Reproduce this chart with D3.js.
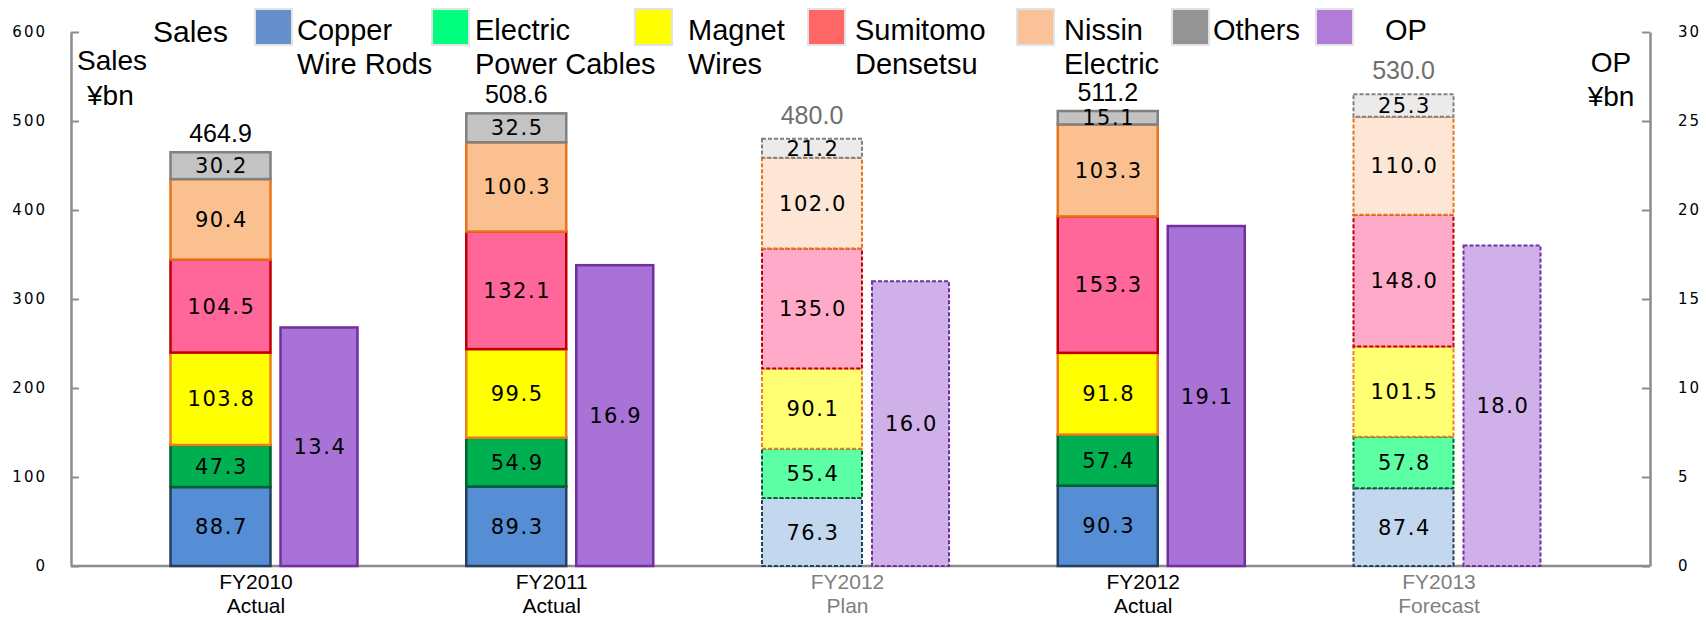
<!DOCTYPE html>
<html>
<head>
<meta charset="utf-8">
<script src="https://cdn.jsdelivr.net/npm/d3@7"></script>
<style>
  body { margin: 0; background: #fff; }
  svg { display: block; }
</style>
</head>
<body>
<svg id="chart" width="1706" height="620"></svg>
<script>
// values (¥bn)
const categories = ["FY2010 Actual", "FY2011 Actual", "FY2012 Plan", "FY2012 Actual", "FY2013 Forecast"];
const yearLabels = ["FY2010", "FY2011", "FY2012", "FY2012", "FY2013"];
const phaseLabels = ["Actual", "Actual", "Plan", "Actual", "Forecast"];

const copperWireRods = [88.7, 89.3, 76.3, 90.3, 87.4];
const electricPowerCables = [47.3, 54.9, 55.4, 57.4, 57.8];
const magnetWires = [103.8, 99.5, 90.1, 91.8, 101.5];
const sumitomoDensetsu = [104.5, 132.1, 135.0, 153.3, 148.0];
const nissinElectric = [90.4, 100.3, 102.0, 103.3, 110.0];
const others = [30.2, 32.5, 21.2, 15.1, 25.3];
const salesTotals = [464.9, 508.6, 480.0, 511.2, 530.0];
const operatingProfit = [13.4, 16.9, 16.0, 19.1, 18.0];

const salesTicks = [0, 100, 200, 300, 400, 500, 600];
const opTicks = [0, 5, 10, 15, 20, 25, 30];

const width = 1706;
const height = 620;
const plot = { left: 71, right: 1650, top: 32, bottom: 566 };

const keys = ["copper", "electric", "magnet", "sumitomo", "nissin", "others"];
const style = {
  copper:   { fill: "#558ED5", light: "#C3D8EF", stroke: "#243F60", legend: "#6690CC" },
  electric: { fill: "#00B050", light: "#5CFFA3", stroke: "#00602E", legend: "#00FF7F" },
  magnet:   { fill: "#FFFF00", light: "#FFFF73", stroke: "#F07D1E", legend: "#FFFF00" },
  sumitomo: { fill: "#FF6699", light: "#FFAAC8", stroke: "#C00000", legend: "#FF6666" },
  nissin:   { fill: "#FAC090", light: "#FDE6D6", stroke: "#E8741A", legend: "#F9C299" },
  others:   { fill: "#C3C3C3", light: "#EBEBEB", stroke: "#808080", legend: "#949494" },
  op:       { fill: "#A972D6", light: "#D0B0E8", stroke: "#7030A0", legend: "#B07CD8" }
};

const rows = categories.map((c, i) => ({
  key: c,
  copper: copperWireRods[i],
  electric: electricPowerCables[i],
  magnet: magnetWires[i],
  sumitomo: sumitomoDensetsu[i],
  nissin: nissinElectric[i],
  others: others[i],
  total: salesTotals[i],
  op: operatingProfit[i],
  estimate: phaseLabels[i] !== "Actual"
}));

const svg = d3.select("#chart");
const arial = "'Liberation Sans', Arial, sans-serif";
const verdana = "'DejaVu Sans', Verdana, sans-serif";

const x = d3.scalePoint(categories, [plot.left + 193, plot.right - 203]);
const ySales = d3.scaleLinear([0, 600], [plot.bottom, plot.top]);
const yOp = d3.scaleLinear([0, 30], [plot.bottom, plot.top]);

const stackW = 100, opW = 77, gap = 10;
const stackX = (c) => x(c) - (stackW + gap + opW) / 2;
const opX = (c) => stackX(c) + stackW + gap;

// axes
const axisL = d3.axisLeft(ySales).tickValues(salesTicks).tickSizeInner(-8).tickSizeOuter(0).tickPadding(24);
const axisR = d3.axisRight(yOp).tickValues(opTicks).tickSizeInner(-8).tickSizeOuter(0).tickPadding(28);

const gL = svg.append("g").attr("transform", `translate(${plot.left},0)`).call(axisL);
const gR = svg.append("g").attr("transform", `translate(${plot.right},0)`).call(axisR);
[gL, gR].forEach((g) => {
  g.select(".domain").attr("stroke", "#8c8c8c").attr("stroke-width", 2.5);
  g.selectAll(".tick line").attr("stroke", "#8c8c8c").attr("stroke-width", 2);
  g.selectAll(".tick text")
    .attr("font-family", verdana).attr("font-size", 15)
    .attr("letter-spacing", 2).attr("fill", "#000");
});

svg.append("line")
  .attr("x1", plot.left).attr("x2", plot.right)
  .attr("y1", plot.bottom).attr("y2", plot.bottom)
  .attr("stroke", "#8c8c8c").attr("stroke-width", 2.5);

// stacked sales bars
const series = d3.stack().keys(keys)(rows);
const barLayer = svg.append("g");
series.forEach((s) => {
  const st = style[s.key];
  barLayer.append("g")
    .selectAll("rect")
    .data(s)
    .join("rect")
    .attr("x", (d) => stackX(d.data.key))
    .attr("y", (d) => ySales(d[1]))
    .attr("width", stackW)
    .attr("height", (d) => ySales(d[0]) - ySales(d[1]))
    .attr("fill", (d) => (d.data.estimate ? st.light : st.fill))
    .attr("stroke", st.stroke)
    .attr("stroke-width", (d) => (d.data.estimate ? 2 : 2.5))
    .attr("stroke-dasharray", (d) => (d.data.estimate ? "4,2" : null));
});

// OP bars
svg.append("g")
  .selectAll("rect")
  .data(rows)
  .join("rect")
  .attr("x", (d) => opX(d.key))
  .attr("y", (d) => yOp(d.op))
  .attr("width", opW)
  .attr("height", (d) => yOp(0) - yOp(d.op))
  .attr("fill", (d) => (d.estimate ? style.op.light : style.op.fill))
  .attr("stroke", style.op.stroke)
  .attr("stroke-width", (d) => (d.estimate ? 2 : 2.5))
  .attr("stroke-dasharray", (d) => (d.estimate ? "4,2" : null));

// segment labels
series.forEach((s) => {
  svg.append("g")
    .selectAll("text")
    .data(s)
    .join("text")
    .attr("x", (d) => stackX(d.data.key) + stackW / 2 + 1)
    .attr("y", (d) => (ySales(d[0]) + ySales(d[1])) / 2)
    .attr("dy", "0.36em")
    .attr("text-anchor", "middle")
    .attr("font-family", verdana)
    .attr("font-size", 21)
    .attr("letter-spacing", 1.6)
    .text((d) => d3.format(".1f")(d.data[s.key]));
});

svg.append("g")
  .selectAll("text")
  .data(rows)
  .join("text")
  .attr("x", (d) => opX(d.key) + opW / 2 + 1)
  .attr("y", (d) => (yOp(0) + yOp(d.op)) / 2)
  .attr("dy", "0.36em")
  .attr("text-anchor", "middle")
  .attr("font-family", verdana)
  .attr("font-size", 21)
  .attr("letter-spacing", 1.6)
  .text((d) => d3.format(".1f")(d.op));

// totals
svg.append("g")
  .selectAll("text")
  .data(rows)
  .join("text")
  .attr("x", (d) => stackX(d.key) + stackW / 2)
  .attr("y", (d) => ySales(d.total) - (d.estimate ? 15 : 10))
  .attr("text-anchor", "middle")
  .attr("font-family", arial)
  .attr("font-size", 25)
  .attr("fill", (d) => (d.estimate ? "#6f6f6f" : "#000"))
  .text((d) => d3.format(".1f")(d.total));

// category labels
const catG = svg.append("g")
  .selectAll("text")
  .data(categories)
  .join("text")
  .attr("text-anchor", "middle")
  .attr("font-family", arial)
  .attr("font-size", 21)
  .attr("fill", (c, i) => (phaseLabels[i] === "Actual" ? "#000" : "#7f7f7f"));
catG.append("tspan").attr("x", (c) => x(c) - 8).attr("y", 589).text((c, i) => yearLabels[i]);
catG.append("tspan").attr("x", (c) => x(c) - 8).attr("y", 613).text((c, i) => phaseLabels[i]);

// axis titles
const titleL = svg.append("text").attr("font-family", arial).attr("font-size", 28).attr("fill", "#000");
titleL.append("tspan").attr("x", 77).attr("y", 70).text("Sales");
titleL.append("tspan").attr("x", 87).attr("y", 105).text("¥bn");
const titleR = svg.append("text").attr("font-family", arial).attr("font-size", 28)
  .attr("text-anchor", "middle").attr("fill", "#000");
titleR.append("tspan").attr("x", 1611).attr("y", 72).text("OP");
titleR.append("tspan").attr("x", 1611).attr("y", 106).text("¥bn");

// legend
const legendItems = [
  { key: "copper", lines: ["Copper", "Wire Rods"] },
  { key: "electric", lines: ["Electric", "Power Cables"] },
  { key: "magnet", lines: ["Magnet", "Wires"] },
  { key: "sumitomo", lines: ["Sumitomo", "Densetsu"] },
  { key: "nissin", lines: ["Nissin", "Electric"] },
  { key: "others", lines: ["Others"] },
  { key: "op", lines: ["OP"] }
];
const legendSwatchX = [255, 432, 635, 808, 1017, 1172, 1316];
const legendTextX = [297, 475, 688, 855, 1064, 1213, 1385];

svg.append("text")
  .attr("x", 153).attr("y", 42)
  .attr("font-family", arial).attr("font-size", 30)
  .text("Sales");

const leg = svg.append("g")
  .selectAll("g")
  .data(legendItems)
  .join("g");
leg.append("rect")
  .attr("x", (d, i) => legendSwatchX[i])
  .attr("y", 9)
  .attr("width", 37)
  .attr("height", 36)
  .attr("fill", (d) => style[d.key].legend)
  .attr("stroke", "#e3e3e3")
  .attr("stroke-width", 2);
leg.each(function (d, i) {
  const t = d3.select(this).append("text")
    .attr("font-family", arial).attr("font-size", 29).attr("fill", "#000");
  d.lines.forEach((line, j) => {
    t.append("tspan").attr("x", legendTextX[i]).attr("y", 40 + j * 34).text(line);
  });
});
</script>
</body>
</html>
